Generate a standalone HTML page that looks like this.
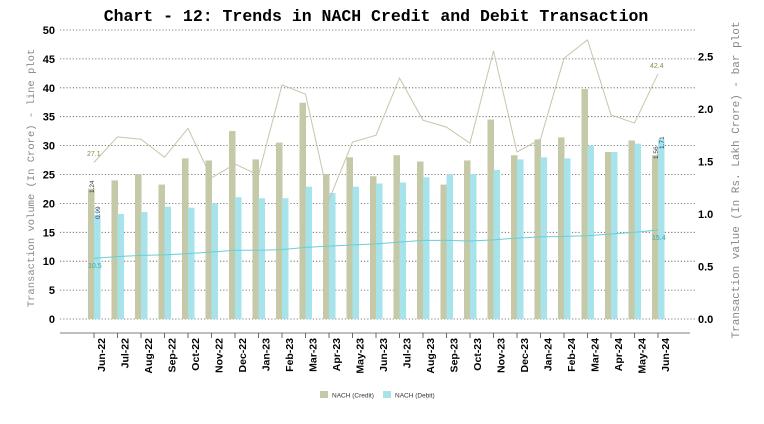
<!DOCTYPE html>
<html><head><meta charset="utf-8"><style>
html,body{margin:0;padding:0;background:#fff;width:764px;height:424px;overflow:hidden}
svg{display:block}
</style></head><body>
<svg id="s" width="764" height="424" xmlns="http://www.w3.org/2000/svg"></svg>
<script>
const months=["Jun-22","Jul-22","Aug-22","Sep-22","Oct-22","Nov-22","Dec-22","Jan-23","Feb-23","Mar-23","Apr-23","May-23","Jun-23","Jul-23","Aug-23","Sep-23","Oct-23","Nov-23","Dec-23","Jan-24","Feb-24","Mar-24","Apr-24","May-24","Jun-24"];
const cb=[1.24,1.32,1.38,1.28,1.53,1.51,1.79,1.52,1.68,2.06,1.38,1.54,1.36,1.56,1.50,1.28,1.51,1.90,1.56,1.71,1.73,2.19,1.59,1.70,1.56];
const db=[0.99,1.00,1.02,1.07,1.06,1.10,1.16,1.15,1.15,1.26,1.20,1.26,1.29,1.30,1.35,1.38,1.38,1.42,1.52,1.54,1.53,1.65,1.59,1.67,1.71];
const cl=[27.1,31.5,31.1,28,33,24.4,26.8,24.9,40.5,38.9,20.6,30.6,31.8,41.7,34.4,33.2,30.4,46.4,28.9,31.1,45.1,48.3,35.3,33.9,42.4];
const dl=[10.5,10.8,11.0,11.1,11.3,11.6,11.9,11.9,12.0,12.4,12.6,12.8,13.0,13.3,13.6,13.6,13.5,13.7,14.0,14.2,14.3,14.4,14.7,15.0,15.4];
let h='';
const yL=v=>319-v*5.78, yR=v=>319-v*105, x=i=>94+i*23.5;
h+=`<text x="376" y="21" text-anchor="middle" font-family="Liberation Mono,monospace" font-weight="bold" font-size="16.5">Chart - 12: Trends in NACH Credit and Debit Transaction</text>`;
for(let v=0;v<=50;v+=5){const y=yL(v);h+=`<line x1="60" x2="695" y1="${y}" y2="${y}" stroke="#555" stroke-width="0.8" stroke-dasharray="1.2,2"/>`;
h+=`<text x="55" y="${y+4}" text-anchor="end" font-family="Liberation Sans,sans-serif" font-weight="bold" font-size="11">${v}</text>`;}
[0,0.5,1,1.5,2,2.5].forEach(v=>{h+=`<text x="698" y="${yR(v)+4}" font-family="Liberation Sans,sans-serif" font-weight="bold" font-size="11">${v.toFixed(1)}</text>`;});
months.forEach((m,i)=>{const X=x(i);
h+=`<rect x="${X-6}" y="${yR(cb[i])}" width="6.5" height="${319-yR(cb[i])}" fill="#c5c9a7"/>`;
h+=`<rect x="${X}" y="${yR(db[i])}" width="6.5" height="${319-yR(db[i])}" fill="#a6e3ea"/>`;
h+=`<line x1="${X}" x2="${X}" y1="333" y2="338" stroke="#444" stroke-width="0.8"/>`;
h+=`<text transform="translate(${X+11},${338}) rotate(-90)" text-anchor="end" font-family="Liberation Sans,sans-serif" font-weight="bold" font-size="10.5">${m}</text>`;});
h+=`<line x1="60" x2="690" y1="333" y2="333" stroke="#555" stroke-width="0.8"/>`;
h+=`<polyline fill="none" stroke="#c8c5a9" stroke-width="1" points="${cl.map((v,i)=>x(i)+','+yL(v)).join(' ')}"/>`;
h+=`<polyline fill="none" stroke="#6ccdd5" stroke-width="1" points="${dl.map((v,i)=>x(i)+','+yL(v)).join(' ')}"/>`;
h+=`<text x="87" y="156" font-family="Liberation Sans,sans-serif" font-size="7" fill="#8a8a40">27.1</text>`;
h+=`<text x="650" y="68" font-family="Liberation Sans,sans-serif" font-size="7" fill="#8a8a40">42.4</text>`;
h+=`<text x="88" y="268" font-family="Liberation Sans,sans-serif" font-size="7" fill="#3aa">10.5</text>`;
h+=`<text x="652" y="240" font-family="Liberation Sans,sans-serif" font-size="7" fill="#3aa">15.4</text>`;
h+=`<text transform="translate(94,193) rotate(-90)" font-family="Liberation Sans,sans-serif" font-size="6.5" fill="#333">1.24</text>`;
h+=`<text transform="translate(100,219) rotate(-90)" font-family="Liberation Sans,sans-serif" font-size="6.5" fill="#147">0.99</text>`;
h+=`<text transform="translate(658,159) rotate(-90)" font-family="Liberation Sans,sans-serif" font-size="6.5" fill="#333">1.56</text>`;
h+=`<text transform="translate(664,149) rotate(-90)" font-family="Liberation Sans,sans-serif" font-size="6.5" fill="#147">1.71</text>`;
h+=`<text transform="translate(34,178) rotate(-90)" text-anchor="middle" font-family="Liberation Mono,monospace" font-size="10.5" fill="#888">Transaction volume (In Crore) - line plot</text>`;
h+=`<text transform="translate(739,180) rotate(-90)" text-anchor="middle" font-family="Liberation Mono,monospace" font-size="11" fill="#888">Transaction value (In Rs. Lakh Crore) - bar plot</text>`;
h+=`<rect x="320" y="391" width="8" height="7" fill="#c5c9a7"/><text x="332" y="397.5" font-family="Liberation Sans,sans-serif" font-size="6.5" fill="#333">NACH (Credit)</text>`;
h+=`<rect x="383" y="391" width="8" height="7" fill="#a6e3ea"/><text x="395" y="397.5" font-family="Liberation Sans,sans-serif" font-size="6.5" fill="#333">NACH (Debit)</text>`;
document.getElementById('s').innerHTML=h;
</script>
</body></html>
